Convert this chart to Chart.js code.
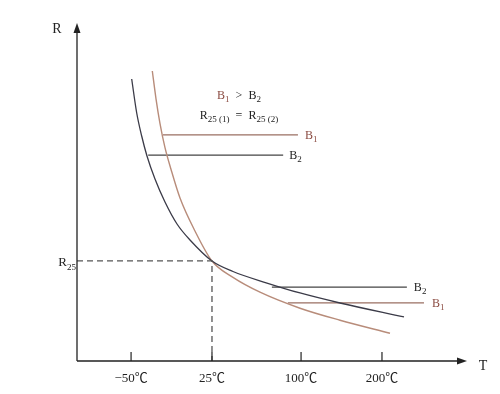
<!DOCTYPE html>
<html>
<head>
<meta charset="utf-8">
<script src="https://cdn.jsdelivr.net/npm/chart.js@4"></script>
<style>
  html, body { margin: 0; padding: 0; background: #fff; }
  #wrap { width: 500px; height: 394px; }
</style>
</head>
<body>
<div id="wrap"><canvas id="ntcChart" width="500" height="394"></canvas></div>
<script>
// axis positions (arbitrary units 0..100) and labels
const xTickPos = [13.9, 34.7, 57.6, 78.4];
const xTickLabels = ['\u221250\u2103', '25\u2103', '100\u2103', '200\u2103'];

// B2 curve (dark)
const b2CurveX = [14.06, 15.35, 16.63, 17.99, 20.05, 22.62, 25.71, 29.05, 34.70, 40.10, 48.84, 57.33, 67.61, 84.06];
const b2CurveY = [83.93, 73.81, 66.96, 61.01, 54.17, 47.32, 40.77, 36.01, 29.76, 26.64, 23.21, 20.24, 17.26, 13.10];

// B1 curve (brown)
const b1CurveX = [19.36, 20.31, 21.34, 22.62, 24.16, 26.48, 30.33, 34.70, 40.10, 47.04, 57.33, 67.61, 80.46];
const b1CurveY = [86.31, 78.04, 70.65, 63.51, 57.08, 48.51, 38.69, 29.76, 24.88, 20.48, 15.71, 12.14, 8.27];

// slope marker lines
const b1TopX = [22.1, 56.8], b1TopY = 67.3;
const b2TopX = [18.3, 53.0], b2TopY = 61.3;
const b2LowX = [50.1, 84.8], b2LowY = 22.0;
const b1LowX = [54.2, 89.2], b1LowY = 17.3;

// R25 reference point
const t25 = 34.7;
const r25 = 29.8;

const DARK = '#3b3b48';
const BROWN = '#b88c7a';
const BROWN_LINE = '#9a6f62';
const RED_TXT = '#8a4a40';
const SERIF = '"Liberation Serif", "Noto Sans CJK SC", "DejaVu Serif", serif';

const pts = (xs, ys) => xs.map((x, i) => ({ x: x, y: ys[i] }));
const hline = (xs, y) => xs.map(x => ({ x: x, y: y }));

// write text with subscripts: parts = [[text, isSub, color]]
function drawRich(ctx, parts, x, y, size, align) {
    const subSize = Math.round(size * 0.72);
    let total = 0;
    parts.forEach(p => {
        ctx.font = (p[1] ? subSize : size) + 'px ' + SERIF;
        total += ctx.measureText(p[0]).width;
    });
    let cx = align === 'center' ? x - total / 2 : (align === 'right' ? x - total : x);
    ctx.textAlign = 'left';
    ctx.textBaseline = 'alphabetic';
    parts.forEach(p => {
        ctx.font = (p[1] ? subSize : size) + 'px ' + SERIF;
        ctx.fillStyle = p[2] || '#222';
        ctx.fillText(p[0], cx, p[1] ? y + size * 0.28 : y);
        cx += ctx.measureText(p[0]).width;
    });
}

const axesPlugin = {
    id: 'axesPlugin',
    afterDatasetsDraw(chart) {
        const ctx = chart.ctx;
        const xs = chart.scales.x, ys = chart.scales.y;
        const x0 = xs.getPixelForValue(0), y0 = ys.getPixelForValue(0);
        const xEnd = xs.getPixelForValue(100), yEnd = ys.getPixelForValue(100);
        ctx.save();

        // dashed R25 guides
        ctx.strokeStyle = '#555';
        ctx.lineWidth = 1.3;
        ctx.setLineDash([6, 4]);
        ctx.beginPath();
        ctx.moveTo(x0, ys.getPixelForValue(r25));
        ctx.lineTo(xs.getPixelForValue(t25), ys.getPixelForValue(r25));
        ctx.lineTo(xs.getPixelForValue(t25), y0);
        ctx.stroke();
        ctx.setLineDash([]);

        // axes
        ctx.strokeStyle = '#222';
        ctx.lineWidth = 1.3;
        ctx.beginPath();
        ctx.moveTo(x0, y0);
        ctx.lineTo(x0, yEnd + 4);
        ctx.moveTo(x0, y0);
        ctx.lineTo(xEnd - 5, y0);
        ctx.stroke();

        // arrow heads
        ctx.fillStyle = '#222';
        ctx.beginPath();
        ctx.moveTo(x0, yEnd - 2);
        ctx.lineTo(x0 - 3.5, yEnd + 8);
        ctx.lineTo(x0 + 3.5, yEnd + 8);
        ctx.closePath();
        ctx.fill();
        ctx.beginPath();
        ctx.moveTo(xEnd + 1, y0);
        ctx.lineTo(xEnd - 9, y0 - 3.5);
        ctx.lineTo(xEnd - 9, y0 + 3.5);
        ctx.closePath();
        ctx.fill();

        // inward ticks and labels
        ctx.lineWidth = 1.2;
        xTickPos.forEach((v, i) => {
            const px = xs.getPixelForValue(v);
            ctx.beginPath();
            ctx.moveTo(px, y0);
            ctx.lineTo(px, y0 - 9);
            ctx.stroke();
            ctx.font = '13px ' + SERIF;
            ctx.fillStyle = '#222';
            ctx.textAlign = 'center';
            ctx.textBaseline = 'alphabetic';
            ctx.fillText(xTickLabels[i], px, y0 + 21);
        });

        // axis names
        ctx.font = '14px ' + SERIF;
        ctx.textAlign = 'center';
        ctx.fillText('R', x0 - 20, yEnd + 8);
        ctx.fillText('T', xEnd + 17, y0 + 9);
        drawRich(ctx, [['R', false], ['25', true]], x0 - 1, ys.getPixelForValue(r25) + 5, 13, 'right');

        // marker line labels
        drawRich(ctx, [['B', false, RED_TXT], ['1', true, RED_TXT]], xs.getPixelForValue(b1TopX[1]) + 7, ys.getPixelForValue(b1TopY) + 4, 12, 'left');
        drawRich(ctx, [['B', false], ['2', true]], xs.getPixelForValue(b2TopX[1]) + 6, ys.getPixelForValue(b2TopY) + 4, 12, 'left');
        drawRich(ctx, [['B', false], ['2', true]], xs.getPixelForValue(b2LowX[1]) + 7, ys.getPixelForValue(b2LowY) + 4, 12, 'left');
        drawRich(ctx, [['B', false, RED_TXT], ['1', true, RED_TXT]], xs.getPixelForValue(b1LowX[1]) + 8, ys.getPixelForValue(b1LowY) + 4, 12, 'left');

        // relation text
        drawRich(ctx, [['B', false, RED_TXT], ['1', true, RED_TXT], ['  >  B', false], ['2', true]], 239, 99, 12, 'center');
        drawRich(ctx, [['R', false], ['25 (1)', true], ['  =  R', false], ['25 (2)', true]], 239, 119, 12, 'center');

        ctx.restore();
    }
};

new Chart(document.getElementById('ntcChart').getContext('2d'), {
    type: 'line',
    data: {
        datasets: [
            { label: 'B2', data: pts(b2CurveX, b2CurveY), borderColor: DARK, borderWidth: 1.3, cubicInterpolationMode: 'monotone' },
            { label: 'B1', data: pts(b1CurveX, b1CurveY), borderColor: BROWN, borderWidth: 1.4, cubicInterpolationMode: 'monotone' },
            { label: 'B1 top', data: hline(b1TopX, b1TopY), borderColor: BROWN_LINE, borderWidth: 1.3 },
            { label: 'B2 top', data: hline(b2TopX, b2TopY), borderColor: '#444', borderWidth: 1.3 },
            { label: 'B2 low', data: hline(b2LowX, b2LowY), borderColor: '#444', borderWidth: 1.3 },
            { label: 'B1 low', data: hline(b1LowX, b1LowY), borderColor: BROWN_LINE, borderWidth: 1.3 },
        ],
    },
    options: {
        responsive: false,
        animation: false,
        events: [],
        layout: { padding: { left: 77, right: 34, top: 25, bottom: 33 } },
        elements: { point: { radius: 0 } },
        plugins: { legend: { display: false }, tooltip: { enabled: false } },
        scales: {
            x: { type: 'linear', min: 0, max: 100, display: false },
            y: { type: 'linear', min: 0, max: 100, display: false },
        },
    },
    plugins: [axesPlugin],
});
</script>
</body>
</html>
